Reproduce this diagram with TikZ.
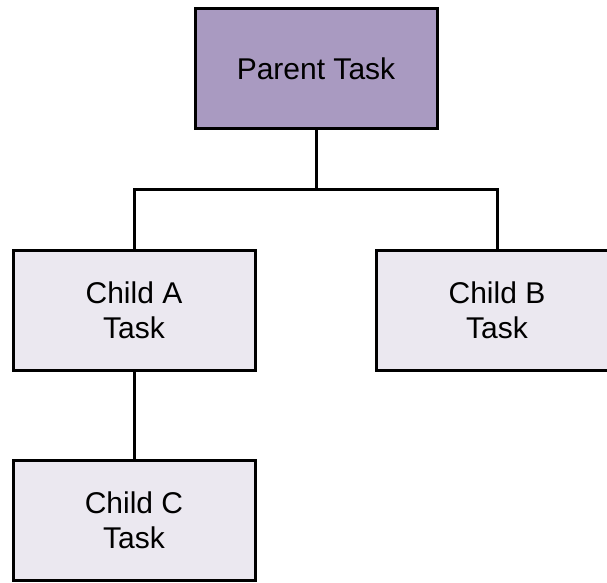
\documentclass[tikz,border=0pt]{standalone}
\usepackage{fontspec}
\setmainfont{Liberation Sans}
\definecolor{parentfill}{HTML}{A99AC1}
\definecolor{childfill}{HTML}{EBE8F0}
\begin{document}
\begin{tikzpicture}[x=1pt,y=-1pt,
  taskbox/.style={draw=black, line width=3pt, minimum width=242pt, minimum height=120pt,
    inner sep=0pt, align=center, font=\fontsize{30}{35}\selectfont},
  link/.style={draw=black, line width=3pt}]
\useasboundingbox (0,0) rectangle (607,582);
\clip (0,0) rectangle (607,582);
\fill[white] (0,0) rectangle (607,582);
\node[taskbox, fill=parentfill] (parent) at (316,68.5) {Parent Task};
\node[taskbox, fill=childfill] (a) at (134,310) {Child A\\Task};
\node[taskbox, fill=childfill] (b) at (497,310) {Child B\\Task};
\node[taskbox, fill=childfill] (c) at (134,520.5) {Child C\\Task};
\coordinate (j) at (316,189);
\draw[link] (parent.south) -- (j);
\draw[link] (a.north) |- (j) -| (b.north);
\draw[link] (a.south) -- (c.north);
\end{tikzpicture}
\end{document}
